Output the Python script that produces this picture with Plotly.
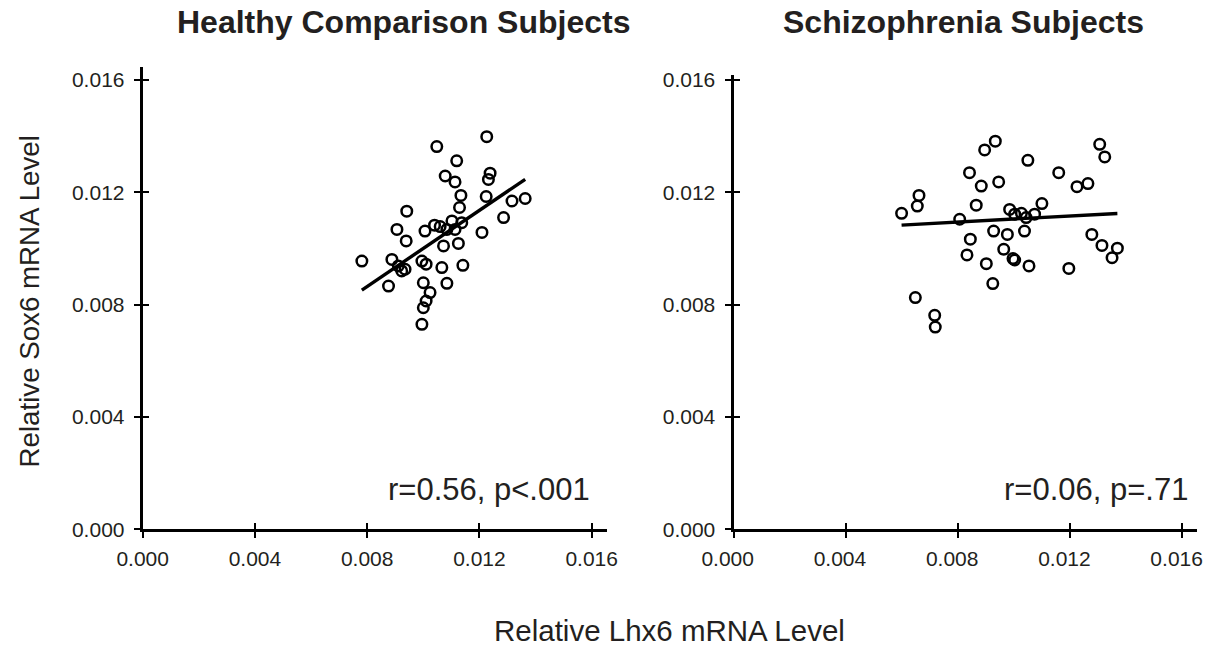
import plotly.graph_objects as go

# ---------------- data ----------------
healthy_lhx6 = [0.01226, 0.01048, 0.01119, 0.01238, 0.01232, 0.01078, 0.01113, 0.01134,
                0.01224, 0.01316, 0.01363, 0.01129, 0.01286, 0.00941, 0.00906, 0.00939,
                0.01006, 0.01040, 0.01060, 0.01084, 0.01102, 0.01137, 0.01113, 0.01209,
                0.01072, 0.01125, 0.00781, 0.00888, 0.00911, 0.00935, 0.00923, 0.00995,
                0.01010, 0.01066, 0.01141, 0.00876, 0.01000, 0.01084, 0.01024, 0.01010,
                0.01000, 0.00995]
healthy_sox6 = [0.01398, 0.01363, 0.01312, 0.01268, 0.01246, 0.01258, 0.01237, 0.01189,
                0.01185, 0.01169, 0.01178, 0.01146, 0.01110, 0.01133, 0.01068, 0.01027,
                0.01062, 0.01083, 0.01078, 0.01068, 0.01098, 0.01092, 0.01068, 0.01057,
                0.01009, 0.01018, 0.00955, 0.00961, 0.00938, 0.00926, 0.00920, 0.00955,
                0.00944, 0.00932, 0.00940, 0.00866, 0.00878, 0.00876, 0.00843, 0.00813,
                0.00789, 0.00730]

schizo_lhx6 = [0.00600, 0.00933, 0.00895, 0.01049, 0.01305, 0.01323, 0.00841, 0.01159,
               0.00945, 0.00883, 0.01224, 0.01263, 0.00661, 0.00655, 0.00599, 0.00865,
               0.00984, 0.01002, 0.01026, 0.01043, 0.01073, 0.01099, 0.00806, 0.00927,
               0.00976, 0.01037, 0.00844, 0.01277, 0.01313, 0.01368, 0.01349, 0.00832,
               0.00963, 0.00996, 0.01002, 0.00901, 0.01053, 0.01195, 0.00924, 0.00648,
               0.00717, 0.00719]
schizo_sox6 = [0.01628, 0.01382, 0.01351, 0.01314, 0.01371, 0.01326, 0.01270, 0.01270,
               0.01237, 0.01222, 0.01220, 0.01231, 0.01189, 0.01151, 0.01125, 0.01154,
               0.01139, 0.01122, 0.01125, 0.01110, 0.01122, 0.01160, 0.01104, 0.01062,
               0.01050, 0.01062, 0.01033, 0.01050, 0.01011, 0.01001, 0.00967, 0.00977,
               0.00997, 0.00964, 0.00959, 0.00946, 0.00938, 0.00929, 0.00875, 0.00825,
               0.00762, 0.00720]

# regression lines: [slope, intercept]
healthy_fit = [0.678, 0.003222]
schizo_fit = [0.0539, 0.01051]

tick_vals = [0.000, 0.004, 0.008, 0.012, 0.016]
tick_text = ["0.000", "0.004", "0.008", "0.012", "0.016"]

panel_titles = ["Healthy Comparison Subjects", "Schizophrenia Subjects"]
stats_text = ["r=0.56, p<.001", "r=0.06, p=.71"]
x_title = "Relative Lhx6 mRNA Level"
y_title = "Relative Sox6 mRNA Level"

FONT = "Liberation Sans, Arial, sans-serif"
TXT = "#231f20"
# the page body has an 8px margin, so the figure is drawn 8px in from the top-left
OFF = 8
W, H = 1212 - 2 * OFF, 649 - 2 * OFF


def fit_line(xs, fit):
    lo, hi = min(xs), max(xs)
    return [lo, hi], [fit[1] + fit[0] * lo, fit[1] + fit[0] * hi]


fig = go.Figure()

marker = dict(symbol="circle-open", size=10.5, color="black", line=dict(width=2.5, color="black"))

fig.add_trace(go.Scatter(x=healthy_lhx6, y=healthy_sox6, mode="markers", marker=marker,
                         xaxis="x", yaxis="y", showlegend=False, cliponaxis=False))
fx, fy = fit_line(healthy_lhx6, healthy_fit)
fig.add_trace(go.Scatter(x=fx, y=fy, mode="lines", line=dict(color="black", width=3.4),
                         xaxis="x3", yaxis="y3", showlegend=False, cliponaxis=False))

fig.add_trace(go.Scatter(x=schizo_lhx6, y=schizo_sox6, mode="markers", marker=marker,
                         xaxis="x2", yaxis="y2", showlegend=False, cliponaxis=False))
fx, fy = fit_line(schizo_lhx6, schizo_fit)
fig.add_trace(go.Scatter(x=fx, y=fy, mode="lines", line=dict(color="black", width=3.4),
                         xaxis="x4", yaxis="y4", showlegend=False, cliponaxis=False))


# screen-pixel -> paper helpers
def px_x(p):
    return (p - OFF) / W


def px_y(p):
    return 1 - (p - OFF) / H


left_dom = [px_x(142.7), px_x(606.7)]
right_dom = [px_x(733.5), px_x(1197.3)]
y_dom_left = [px_y(529.3), px_y(66.7)]
y_dom_right = [px_y(529.3), px_y(75.0)]
xr_left = [0, 0.016535]
xr_right = [0, 0.016528]
yr_left = [0, 0.016473]
yr_right = [0, 0.016177]

# right panel's x tick labels sit a little left of their ticks in the reference
right_x_ticktext = [t + "\u00a0\u00a0" for t in tick_text]

common = dict(showgrid=False, zeroline=False, showline=True, linecolor="black", linewidth=3,
              tickcolor="black", tickwidth=2.4, ticklen=6, automargin=False,
              tickvals=tick_vals, ticklabeloverflow="allow",
              tickfont=dict(family=FONT, size=21, color=TXT))

fig.update_layout(
    width=W, height=H,
    margin=dict(l=0, r=0, t=0, b=0),
    paper_bgcolor="white", plot_bgcolor="white",
    xaxis=dict(domain=left_dom, range=xr_left, anchor="y", ticks="outside",
               ticktext=tick_text, ticklabelstandoff=2, **common),
    yaxis=dict(domain=y_dom_left, range=yr_left, anchor="x", ticks="outside",
               ticktext=tick_text, ticklabelstandoff=5, **common),
    xaxis2=dict(domain=right_dom, range=xr_right, anchor="y2", ticks="outside",
                ticktext=right_x_ticktext, ticklabelstandoff=2, **common),
    yaxis2=dict(domain=y_dom_right, range=yr_right, anchor="x2", ticks="outside",
                ticktext=tick_text, ticklabelstandoff=5, **common),
    xaxis3=dict(overlaying="x", range=xr_left, anchor="y3", ticks="inside",
                showticklabels=False, **common),
    yaxis3=dict(overlaying="y", range=yr_left, anchor="x3", ticks="inside",
                showticklabels=False, **common),
    xaxis4=dict(overlaying="x2", range=xr_right, anchor="y4", ticks="inside",
                showticklabels=False, **common),
    yaxis4=dict(overlaying="y2", range=yr_right, anchor="x4", ticks="inside",
                showticklabels=False, **common),
)

ann = []
ann.append(dict(text="<b>%s</b>" % panel_titles[0], x=px_x(403), y=px_y(22), xref="paper", yref="paper",
                xanchor="center", yanchor="middle", showarrow=False,
                font=dict(family=FONT, size=32, color=TXT)))
ann.append(dict(text="<b>%s</b>" % panel_titles[1], x=px_x(963), y=px_y(22), xref="paper", yref="paper",
                xanchor="center", yanchor="middle", showarrow=False,
                font=dict(family=FONT, size=32, color=TXT)))
ann.append(dict(text=stats_text[0], x=0.016, y=0.0014, xref="x", yref="y",
                xanchor="right", yanchor="middle", showarrow=False,
                font=dict(family=FONT, size=31, color=TXT)))
ann.append(dict(text=stats_text[1], x=0.01625, y=0.0014, xref="x2", yref="y2",
                xanchor="right", yanchor="middle", showarrow=False,
                font=dict(family=FONT, size=31, color=TXT)))
ann.append(dict(text=x_title, x=px_x(669), y=px_y(630.5), xref="paper", yref="paper",
                xanchor="center", yanchor="middle", showarrow=False,
                font=dict(family=FONT, size=29.5, color=TXT)))
ann.append(dict(text=y_title, x=px_x(29), y=px_y(301.5), xref="paper", yref="paper",
                xanchor="center", yanchor="middle", showarrow=False, textangle=-90,
                font=dict(family=FONT, size=27.7, color=TXT)))
fig.update_layout(annotations=ann)

fig.write_html("out.html")
